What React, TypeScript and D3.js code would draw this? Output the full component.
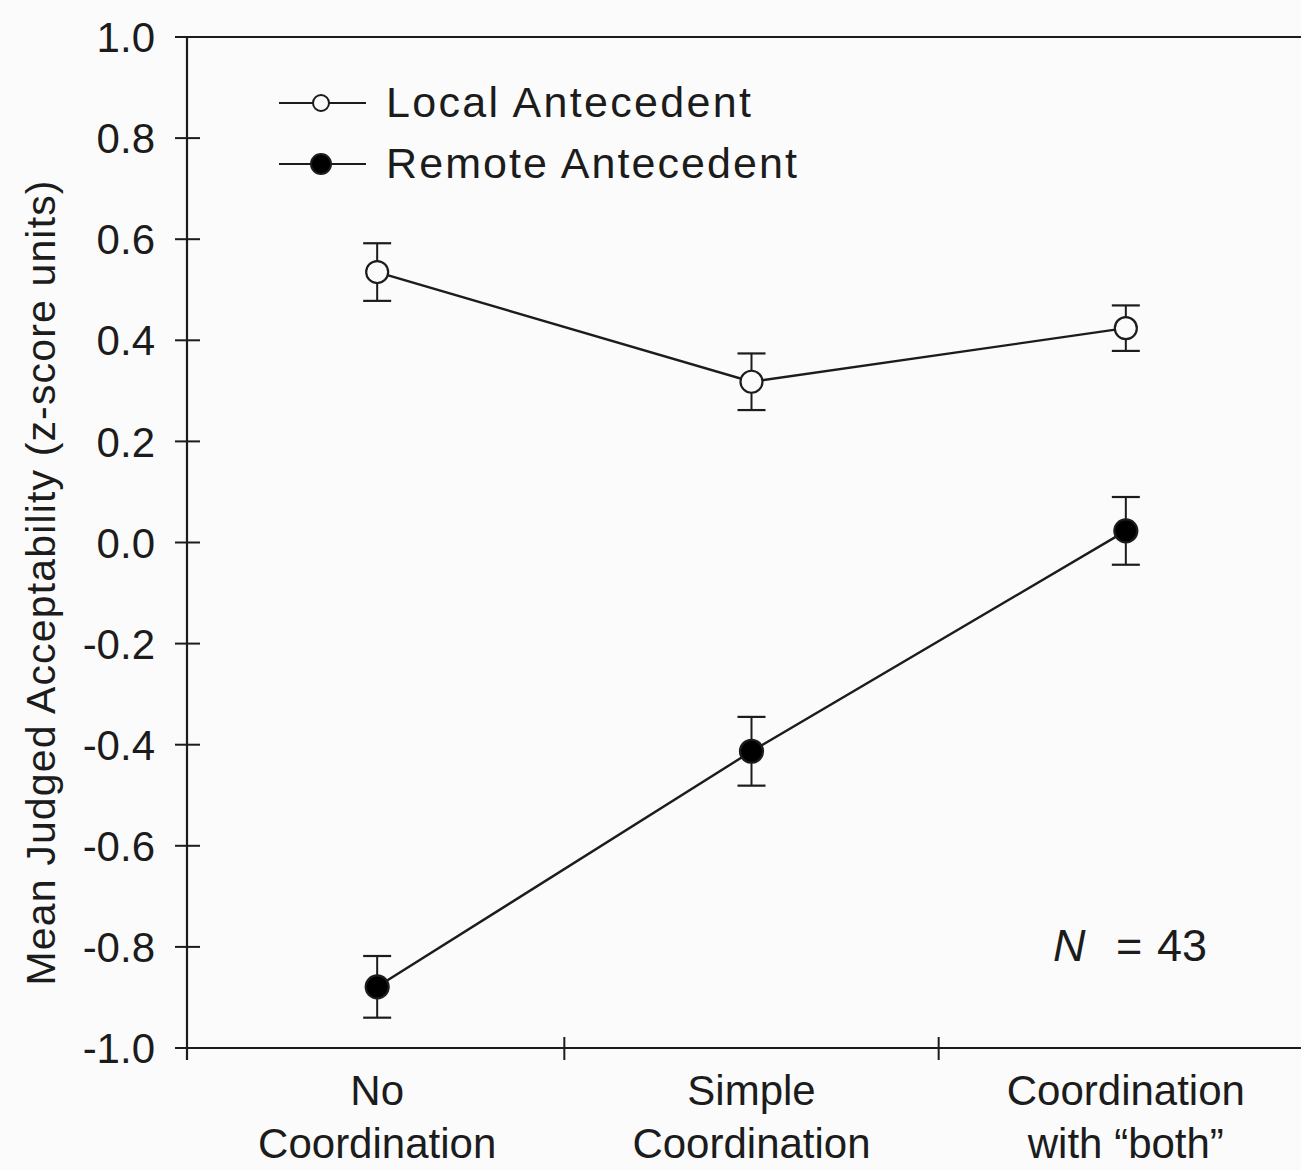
import React from "react";
import * as d3 from "d3";

const categories = ["No Coordination", "Simple Coordination", "Coordination with \u201cboth\u201d"];
const categoryLines = [
  ["No", "Coordination"],
  ["Simple", "Coordination"],
  ["Coordination", "with \u201cboth\u201d"],
];
const localMeans = [0.535, 0.318, 0.424];
const localErrors = [0.057, 0.056, 0.045];
const remoteMeans = [-0.879, -0.413, 0.023];
const remoteErrors = [0.061, 0.068, 0.067];
const yTicks = [1.0, 0.8, 0.6, 0.4, 0.2, 0.0, -0.2, -0.4, -0.6, -0.8, -1.0];

const W = 1301;
const H = 1170;
const ink = "#1c1c1c";
const font = "'Liberation Sans', Arial, Helvetica, sans-serif";

export default function App() {
  const y = d3.scaleLinear().domain([-1, 1]).range([1048, 37]);
  const x = d3.scaleBand<string>().domain(categories).range([190, 1313]);
  const cx = (c: string) => (x(c) ?? 0) + x.bandwidth() / 2;
  const axisX = 187;
  const line = d3
    .line<number>()
    .x((_, i) => cx(categories[i]))
    .y((v) => y(v));

  const series = [
    { name: "Local Antecedent", means: localMeans, errors: localErrors, filled: false, r: 11 },
    { name: "Remote Antecedent", means: remoteMeans, errors: remoteErrors, filled: true, r: 11.5 },
  ];

  return (
    <svg
      width={W}
      height={H}
      style={{ position: "absolute", left: 0, top: 0, fontFamily: font }}
    >
      <rect width={W} height={H} fill="#fbfbfb" />

      {/* frame top and y axis */}
      <line x1={175} x2={W} y1={y(1)} y2={y(1)} stroke={ink} strokeWidth={2.2} />
      <line x1={axisX} x2={axisX} y1={y(1)} y2={1060} stroke={ink} strokeWidth={2.2} />
      <line x1={177} x2={W} y1={y(-1)} y2={y(-1)} stroke={ink} strokeWidth={2.2} />

      {yTicks.map((t) => (
        <g key={t}>
          <line x1={175} x2={200} y1={y(t)} y2={y(t)} stroke={ink} strokeWidth={2} />
          <text
            x={155}
            y={y(t)}
            dy="0.36em"
            textAnchor="end"
            fontSize={42}
            fill={ink}
          >
            {t.toFixed(1)}
          </text>
        </g>
      ))}

      {/* category dividers */}
      {categories.slice(1).map((c) => (
        <line
          key={c}
          x1={x(c)}
          x2={x(c)}
          y1={1037}
          y2={1060}
          stroke={ink}
          strokeWidth={2}
        />
      ))}

      {categories.map((c, i) => (
        <text key={c} textAnchor="middle" fontSize={42} fill={ink}>
          {categoryLines[i].map((s, j) => (
            <tspan key={j} x={cx(c)} y={1105 + j * 53}>
              {s}
            </tspan>
          ))}
        </text>
      ))}

      <text
        transform={`translate(55, 583) rotate(-90)`}
        textAnchor="middle"
        fontSize={41}
        fill={ink}
        textLength={805}
        lengthAdjust="spacing"
      >
        Mean Judged Acceptability (z-score units)
      </text>

      {series.map((s) => (
        <g key={s.name}>
          <path d={line(s.means) ?? ""} fill="none" stroke={ink} strokeWidth={2.4} />
          {s.means.map((m, i) => {
            const px = cx(categories[i]);
            const top = y(m + s.errors[i]);
            const bot = y(m - s.errors[i]);
            return (
              <g key={i}>
                <line x1={px} x2={px} y1={top} y2={bot} stroke={ink} strokeWidth={2} />
                <line x1={px - 14} x2={px + 14} y1={top} y2={top} stroke={ink} strokeWidth={2.2} />
                <line x1={px - 14} x2={px + 14} y1={bot} y2={bot} stroke={ink} strokeWidth={2.2} />
                <circle
                  cx={px}
                  cy={y(m)}
                  r={s.r}
                  fill={s.filled ? "#000" : "#fbfbfb"}
                  stroke={ink}
                  strokeWidth={2.2}
                />
              </g>
            );
          })}
        </g>
      ))}

      {/* legend */}
      {series.map((s, i) => {
        const ly = 103 + i * 61;
        return (
          <g key={s.name}>
            <line x1={279} x2={366} y1={ly} y2={ly} stroke={ink} strokeWidth={2} />
            <circle
              cx={321}
              cy={ly}
              r={s.filled ? 10 : 8}
              fill={s.filled ? "#000" : "#fbfbfb"}
              stroke={ink}
              strokeWidth={2}
            />
            <text
              x={386}
              y={ly + 14}
              fontSize={43}
              fill={ink}
              textLength={i === 0 ? 365 : 411}
              lengthAdjust="spacing"
            >
              {s.name}
            </text>
          </g>
        );
      })}

      <text y={961} fontSize={45} fill={ink}>
        <tspan x={1053} fontStyle="italic">N</tspan>
        <tspan x={1116}>=</tspan>
        <tspan x={1157}>43</tspan>
      </text>
    </svg>
  );
}
